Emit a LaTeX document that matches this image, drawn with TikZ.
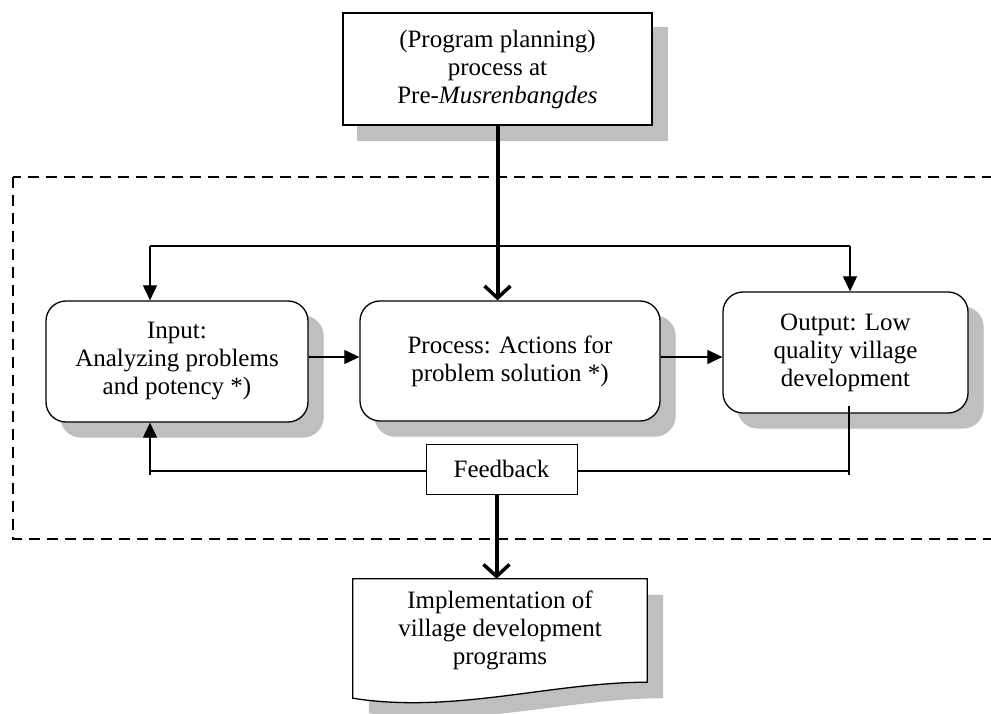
\documentclass[tikz,border=0pt]{standalone}
\usepackage{fontspec}
\setmainfont{Liberation Serif}
\usetikzlibrary{arrows.meta,shadows}
\begin{document}
\begin{tikzpicture}[x=1pt,y=-1pt,
  every node/.style={font=\fontsize{25}{28}\selectfont, align=center},
  shad/.style={copy shadow={shadow xshift=15pt,shadow yshift=-15pt,fill=black!25,draw=black!25}},
  rbox/.style={draw, line width=1.3pt, rounded corners=20pt, fill=white, shad, inner sep=0pt},
  sbox/.style={draw, line width=1.5pt, fill=white, shad, inner sep=0pt},
  fbox/.style={draw, line width=1pt, fill=white, inner sep=0pt},
  conn/.style={line width=1.1pt},
  arr/.style={conn, -{Triangle[length=15pt,width=14pt]}},
  thick arr/.style={line width=4pt, -{Straight Barb[length=12pt,width=26pt,line width=3.5pt]}},
  dashbox/.style={line width=2pt, dash pattern=on 11pt off 7pt}
]
\useasboundingbox[fill=white] (0,0) rectangle (991,714);

% dashed frame
\draw[dashbox] (13,177) rectangle (1005,539);

% nodes
\node[sbox, minimum width=309pt, minimum height=112pt] (top) at (497.5,69)
  {(Program planning)\\process at\\Pre-\textit{Musrenbangdes}};
\node[rbox, minimum width=262pt, minimum height=121pt] (input) at (177,361.5)
  {Input:\\Analyzing problems\\and potency *)};
\node[rbox, minimum width=300pt, minimum height=120pt] (process) at (510,361)
  {Process: Actions for\\problem solution *)};
\node[rbox, minimum width=245pt, minimum height=121pt] (output) at (845.5,352.5)
  {Output: Low\\quality village\\development};

% implementation (document shape)
\node[minimum width=294pt, minimum height=103pt, inner sep=0pt] (impl) at (500,630.5) {};
\fill[black!25] ([xshift=16pt,yshift=-16pt]impl.north west) -- ([xshift=16pt,yshift=-16pt]impl.north east)
  -- ([xshift=16pt,yshift=-16pt]impl.south east)
  .. controls +(-95,0) and +(100,16) .. ([xshift=16pt,yshift=-31pt]impl.south west) -- cycle;
\draw[line width=1.3pt, fill=white] (impl.north west) -- (impl.north east) -- (impl.south east)
  .. controls +(-95,0) and +(100,16) .. ([yshift=-16pt]impl.south west) -- cycle;
\node (impltext) at (impl.center) {Implementation of\\village development\\programs};

% top loop
\coordinate (ltop) at (150,246);
\coordinate (rtop) at (850,246);
\draw[conn] (ltop) -- (rtop);
\draw[arr] (ltop) -- (ltop |- input.north);
\draw[arr] (rtop) -- (rtop |- output.north);

% main flow
\coordinate (mid) at (0,357);
\draw[arr] (input.east |- mid) -- (process.west |- mid);
\draw[arr] (process.east |- mid) -- (output.west |- mid);
\draw[thick arr] (top.south) -- (top.south |- process.north);

% feedback
\node[fbox, minimum width=151pt, minimum height=50pt] (fb) at (501.5,469) {Feedback};
\coordinate (lfb) at (150,471);
\coordinate (rfb) at (849,471);
\draw[conn] (fb.west |- lfb) -- (lfb);
\draw[conn] ([yshift=-4pt]lfb) -- (lfb);
\draw[arr] (lfb) -- (lfb |- input.south);
\draw[conn] (fb.east |- rfb) -- (rfb);
\draw[conn] ([yshift=8pt]output.south -| rfb) -- ([yshift=-4pt]rfb);
\draw[thick arr] ([xshift=-5pt]fb.south) -- ([xshift=-5pt]fb.south |- impl.north);
\end{tikzpicture}
\end{document}
